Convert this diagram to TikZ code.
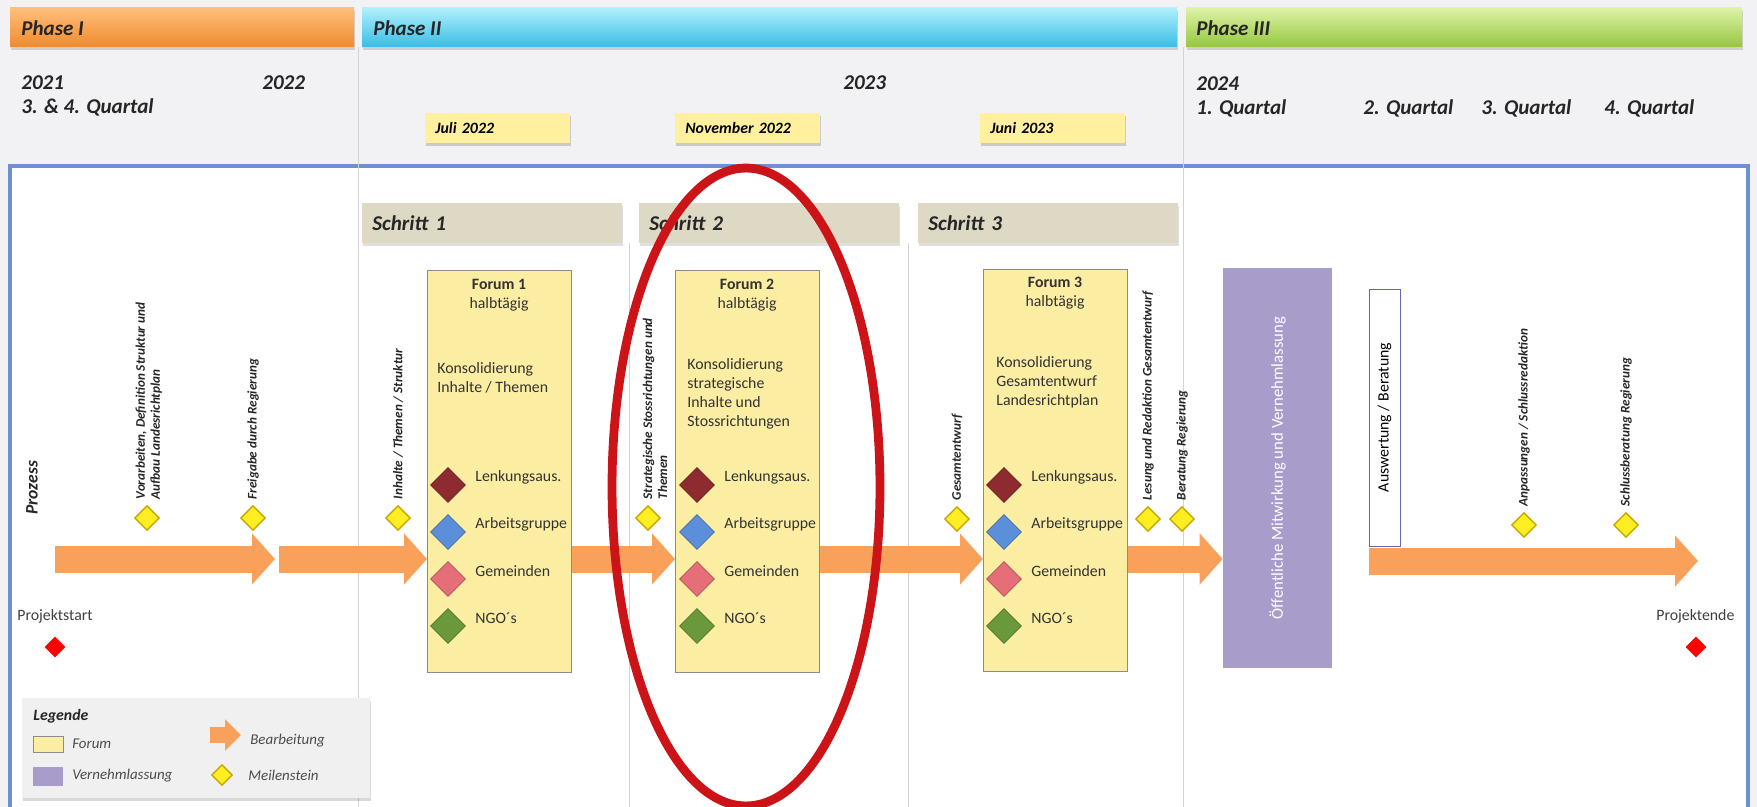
\documentclass[tikz,border=0pt]{standalone}
\usepackage{fontspec}
\setmainfont{Carlito}
\usetikzlibrary{shapes.geometric,arrows.meta,positioning,shadows}
\definecolor{bgcol}{HTML}{F2F2F4}
\definecolor{framecol}{HTML}{6F90D0}
\definecolor{sepcol}{HTML}{D2D2D8}
\definecolor{ph1a}{HTML}{FFBE7A}\definecolor{ph1b}{HTML}{F08A2E}
\definecolor{ph2a}{HTML}{B0F0FC}\definecolor{ph2b}{HTML}{38BDE6}
\definecolor{ph3a}{HTML}{DDF3A6}\definecolor{ph3b}{HTML}{96C63E}
\definecolor{stepcol}{HTML}{DDD9C4}
\definecolor{forumcol}{HTML}{FBEDA2}
\definecolor{datecol}{HTML}{FFF0A0}
\definecolor{verncol}{HTML}{A89CCB}
\definecolor{arrcol}{HTML}{F9A05A}
\definecolor{mscol}{HTML}{FFEE22}
\definecolor{msedge}{HTML}{C8A800}
\definecolor{lenkcol}{HTML}{8E2B30}
\definecolor{agcol}{HTML}{5B8FDA}
\definecolor{gemcol}{HTML}{E56E78}
\definecolor{ngocol}{HTML}{6A983A}
\definecolor{ringcol}{HTML}{CC1418}
\definecolor{txtcol}{HTML}{262626}
\tikzset{
 hdr/.style={anchor=west, inner sep=0pt, font=\fontsize{12}{14}\selectfont\bfseries\itshape, text=txtcol},
 phasebar/.style={drop shadow={shadow xshift=0.5pt, shadow yshift=-1.5pt, opacity=0.3}},
 datebox/.style={anchor=north west, fill=datecol, minimum height=0.6cm, text width=2.5cm, inner xsep=0.2cm, align=left, font=\fontsize{9}{10}\selectfont\bfseries\itshape, drop shadow={shadow xshift=0.5pt, shadow yshift=-1.5pt, opacity=0.35}},
 stepbox/.style={anchor=north west, fill=stepcol, minimum height=0.8cm, text width=4.8cm, inner xsep=0.2cm, font=\fontsize{12}{14}\selectfont\bfseries\itshape, text=txtcol, drop shadow={shadow xshift=0.5pt, shadow yshift=-1.5pt, opacity=0.25}},
 forumbox/.style={anchor=north west, fill=forumcol, draw=black!45, line width=0.8pt, minimum width=2.88cm, minimum height=8.04cm},
 ftext/.style={inner sep=0pt, align=left, font=\fontsize{9}{10.8}\selectfont, text=black!80},
 gdia/.style={diamond, minimum size=0.7cm, inner sep=0pt, draw=#1!75!black, fill=#1},
 ms/.style={diamond, minimum size=0.5cm, inner sep=0pt, fill=mscol, draw=msedge, line width=0.8pt},
 mslabel/.style={rotate=90, anchor=west, inner sep=0pt, align=left, font=\fontsize{7.5}{8.6}\selectfont\bfseries\itshape, text=black!85},
 procarrow/.style={draw=arrcol, line width=0.54cm, -{Triangle[length=0.46cm,width=1.0cm]}},
 endpt/.style={diamond, minimum size=0.42cm, inner sep=0pt, fill=red},
 leg/.style={anchor=west, inner sep=0pt, font=\fontsize{8.5}{10}\selectfont\itshape, text=black!70},
}
\begin{document}
\begin{tikzpicture}[x=0.02cm, y=-0.02cm]
\useasboundingbox (0,0) rectangle (1757,807);
\fill[bgcol] (0,0) rectangle (1757,807);
\shade[phasebar, top color=ph1a, bottom color=ph1b] (10,8) rectangle (354,47);
\shade[phasebar, top color=ph2a, bottom color=ph2b] (362,8) rectangle (1177,47);
\shade[phasebar, top color=ph3a, bottom color=ph3b] (1186,8) rectangle (1742,47);
\node[hdr] (p1) at (21,28) {Phase I}; \node[hdr] (p2) at (373,28) {Phase II}; \node[hdr] (p3) at (1196,28) {Phase III};
\node[hdr] (y21) at (21,83) {2021}; \node[hdr] (q21) at (21,107) {3. \& 4. Quartal}; \node[hdr] (y22) at (262,83) {2022};
\node[hdr] (y23) at (843,83) {2023}; \node[hdr] (y24) at (1196,84) {2024};
\node[hdr] (q1) at (1196,108) {1. Quartal}; \node[hdr] (q2) at (1363,108) {2. Quartal};
\node[hdr] (q3) at (1481,108) {3. Quartal}; \node[hdr] (q4) at (1604,108) {4. Quartal};
\node[datebox] (d1) at (425,113) {Juli 2022}; \node[datebox] (d2) at (675,113) {November 2022}; \node[datebox] (d3) at (980,113) {Juni 2023};
\draw[framecol, line width=2pt, fill=white] (10,166) rectangle (1748,815);
\draw[sepcol] (358,47) -- (358,807); \draw[sepcol] (1183,47) -- (1183,807);
\draw[sepcol] (629,243) -- (629,807); \draw[sepcol] (908,243) -- (908,807);
\node[stepbox] (st1) at (362,203) {Schritt 1}; \node[stepbox] (st2) at (639,203) {Schritt 2}; \node[stepbox] (st3) at (918,203) {Schritt 3};
\node[forumbox] (f1) at (427,270) {}; \node[forumbox] (f2) at (675,270) {}; \node[forumbox] (f3) at (983,269) {};
\node[ftext, align=center, anchor=north] (f1t) at (499,279) {\textbf{Forum 1}\\halbtägig};
\node[ftext, align=center, anchor=north] (f2t) at (747,279) {\textbf{Forum 2}\\halbtägig};
\node[ftext, align=center, anchor=north] (f3t) at (1055,277) {\textbf{Forum 3}\\halbtägig};
\node[ftext, anchor=north west] (f1b) at (437,362) {Konsolidierung\\Inhalte / Themen};
\node[ftext, anchor=north west] (f2b) at (687,358) {Konsolidierung\\strategische\\Inhalte und\\Stossrichtungen};
\node[ftext, anchor=north west] (f3b) at (996,356) {Konsolidierung\\Gesamtentwurf\\Landesrichtplan};
\foreach \n/\xx in {1/448,2/697,3/1004}
 \foreach \k/\cc/\lab in {0/lenkcol/Lenkungsaus.,1/agcol/Arbeitsgruppe,2/gemcol/Gemeinden,3/ngocol/NGO´s} {
  \node[gdia=\cc] (g\n\k) at (\xx,{485+47*\k}) {};
  \node[ftext, anchor=west] (l\n\k) at (\xx+27,{477+47*\k}) {\lab};
 }
\node[rotate=90, fill=verncol, minimum width=8cm, minimum height=2.18cm, text=white, font=\fontsize{9.5}{11}\selectfont] (vern) at (1277.5,468) {Öffentliche Mitwirkung und Vernehmlassung};
\node[rotate=90, fill=white, draw=black!55!blue!60, minimum width=5.14cm, minimum height=0.62cm, font=\fontsize{9}{10}\selectfont] (ausw) at (1384.5,417.5) {Auswertung / Beratung};
\coordinate (s0) at (55,559); \coordinate (s1) at (275,559); \coordinate (s2) at (279,559); \coordinate (e6) at (1698,561);
\draw[procarrow] (s0) -- (s1); \draw[procarrow] (s2) -- (s2 -| f1.west);
\draw[procarrow] (f1.east |- s0) -- (f2.west |- s0); \draw[procarrow] (f2.east |- s0) -- (f3.west |- s0);
\draw[procarrow] (f3.east |- s0) -- (vern.north |- s0); \draw[procarrow] (ausw.north |- e6) -- (e6);
\node[ms] (m1) at (147,518) {}; \node[ms] (m2) at (253,518) {}; \node[ms] (m3) at (398,518) {};
\node[ms] (m4) at (648,518) {}; \node[ms] (m5) at (957,519) {}; \node[ms] (m6) at (1148,519) {};
\node[ms] (m7) at (1182,519) {}; \node[ms] (m8) at (1524,525) {}; \node[ms] (m9) at (1626,525) {};
\node[mslabel] (m1l) at ([xshift=1pt,yshift=3pt]m1.north) {Vorarbeiten, Definition Struktur und\\Aufbau Landesrichtplan};
\node[mslabel] (m2l) at ([yshift=3pt]m2.north) {Freigabe durch Regierung};
\node[mslabel] (m3l) at ([yshift=3pt]m3.north) {Inhalte / Themen / Struktur};
\node[mslabel] (m4l) at ([xshift=4pt,yshift=3pt]m4.north) {Strategische Stossrichtungen und\\Themen};
\node[mslabel] (m5l) at ([yshift=3pt]m5.north) {Gesamtentwurf};
\node[mslabel] (m6l) at ([yshift=3pt]m6.north) {Lesung und Redaktion Gesamtentwurf};
\node[mslabel] (m7l) at ([yshift=3pt]m7.north) {Beratung Regierung};
\node[mslabel] (m8l) at ([yshift=3pt]m8.north) {Anpassungen / Schlussredaktion};
\node[mslabel] (m9l) at ([yshift=3pt]m9.north) {Schlussberatung Regierung};
\node[rotate=90, anchor=west, inner sep=0pt, font=\fontsize{10}{12}\selectfont\bfseries\itshape, text=txtcol] (proz) at (32,515) {Prozess};
\node[anchor=west, inner sep=0pt, font=\fontsize{9}{10}\selectfont, text=black!75] (pstart) at (17,616) {Projektstart};
\node[endpt] (dstart) at (55,647) {};
\node[anchor=west, inner sep=0pt, font=\fontsize{9}{10}\selectfont, text=black!75] (pende) at (1656,616) {Projektende};
\node[endpt] (dende) at (1696,647) {};
\node[anchor=north west, fill=black!6, minimum width=6.96cm, minimum height=2cm, drop shadow={shadow xshift=0.5pt, shadow yshift=-1.5pt, opacity=0.3}] (legbox) at (22,698) {};
\node[anchor=west, inner sep=0pt, font=\fontsize{9}{10}\selectfont\bfseries\itshape, text=txtcol] (legt) at (33,716) {Legende};
\node[anchor=north west, fill=forumcol, draw=black!45, minimum width=0.6cm, minimum height=0.32cm] (lf) at (33,736) {};
\node[anchor=north west, fill=verncol, minimum width=0.6cm, minimum height=0.38cm] (lv) at (33,767) {};
\node[leg] (lft) at (72,744) {Forum}; \node[leg] (lvt) at (72,776) {Vernehmlassung};
\coordinate (la0) at (210,735); \coordinate (la1) at (241,735);
\draw[draw=arrcol, line width=0.32cm, -{Triangle[length=0.32cm,width=0.62cm]}] (la0) -- (la1);
\node[ms, minimum size=0.42cm] (lm) at (222,775) {};
\node[leg] (lat) at (250,741) {Bearbeitung}; \node[leg] (lmt) at (248,775) {Meilenstein};
\draw[ringcol, line width=5pt] (746,487) ellipse [x radius=2.68cm, y radius=6.38cm];
\end{tikzpicture}
\end{document}
